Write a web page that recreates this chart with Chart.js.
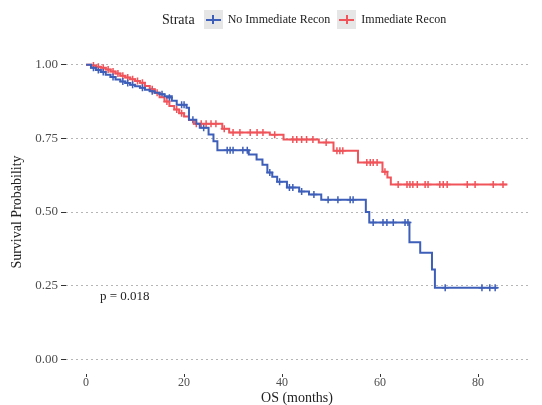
<!DOCTYPE html>
<html>
<head>
    <title>Survival Curve</title>
    <script src="https://cdn.jsdelivr.net/npm/chart.js"></script>
    <style>
        body {
            margin: 0;
            background-color: #fff;
            font-family: 'Liberation Serif', serif;
        }
        .wrap {
            position: relative;
            width: 542px;
            height: 405px;
        }
        #legend {
            position: absolute;
            top: 10px;
            left: 162px;
            display: flex;
            align-items: center;
            font-size: 12px;
            color: #222;
        }
        #legend .ttl {
            font-size: 14px;
            margin-right: 9px;
        }
        .key {
            position: relative;
            width: 19px;
            height: 19px;
            background: #e6e6e6;
            margin-right: 5px;
        }
        .key .h { position: absolute; left: 2px; right: 2px; top: 8.5px; height: 2px; }
        .key .v { position: absolute; top: 5px; bottom: 5px; left: 8.5px; width: 2px; }
        #pval {
            position: absolute;
            left: 100px;
            top: 288px;
            font-size: 13px;
            color: #222;
        }
    </style>
</head>
<body>
    <div class="wrap">
        <canvas id="kmChart" width="542" height="405"></canvas>
        <div id="legend">
            <span class="ttl">Strata</span>
            <span class="key"><i class="h" style="background:#3E5FB9"></i><i class="v" style="background:#3E5FB9"></i></span>
            <span style="margin-right:7px">No Immediate Recon</span>
            <span class="key"><i class="h" style="background:#F0545A"></i><i class="v" style="background:#F0545A"></i></span>
            <span>Immediate Recon</span>
        </div>
        <div id="pval">p = 0.018</div>
    </div>

    <script>
        const xTicks = [0, 20, 40, 60, 80];
        const yTicks = [0, 0.25, 0.5, 0.75, 1];

        // No Immediate Recon - event steps
        const blueTimes = [0, 1, 2, 3, 4, 5, 6, 7, 8, 9, 10, 11, 12, 13, 14, 15, 16, 17.5, 18.5, 20.5, 21, 22.5, 23.2, 25, 26, 26.8, 33.2, 34.8, 36, 37, 38, 39, 41, 43.5, 45.5, 48, 57.1, 57.8, 66, 68.2, 70.6, 71.2, 84];
        const blueSurv = [1.0, 0.99, 0.982, 0.975, 0.966, 0.958, 0.95, 0.943, 0.938, 0.932, 0.927, 0.922, 0.915, 0.91, 0.905, 0.9, 0.893, 0.878, 0.864, 0.854, 0.813, 0.8, 0.786, 0.763, 0.74, 0.71, 0.695, 0.678, 0.66, 0.634, 0.62, 0.603, 0.583, 0.57, 0.559, 0.542, 0.5, 0.464, 0.397, 0.362, 0.305, 0.243, 0.243];
        // censored
        const blueCensT = [1.5, 2.5, 3.5, 5.5, 7.5, 8.5, 9.5, 11.5, 13.5, 15.5, 17, 19.5, 20, 21.8, 24, 28.8, 29.4, 30, 32, 32.9, 37.5, 39.5, 41.5, 42.2, 44, 46.5, 49.4, 51.4, 53.9, 54.5, 58.6, 60.6, 61.4, 62.7, 65.1, 65.7, 73.3, 80.8, 82.4, 83.5];
        const blueCensS = [0.99, 0.982, 0.975, 0.958, 0.943, 0.938, 0.932, 0.922, 0.91, 0.9, 0.888, 0.864, 0.864, 0.813, 0.786, 0.71, 0.71, 0.71, 0.71, 0.71, 0.634, 0.603, 0.583, 0.583, 0.57, 0.559, 0.542, 0.542, 0.542, 0.542, 0.464, 0.464, 0.464, 0.464, 0.464, 0.464, 0.243, 0.243, 0.243, 0.243];

        // Immediate Recon - event steps
        const redTimes = [0, 1, 2, 3, 4, 5, 6, 7, 8, 9, 10, 11, 12, 13, 14, 15, 16, 17, 18, 19, 20, 21, 22, 27.8, 29.2, 37.5, 40.3, 47.5, 50.5, 55.5, 60.5, 61.5, 62.2, 86];
        const redSurv = [1.0, 0.997, 0.993, 0.99, 0.984, 0.977, 0.97, 0.963, 0.957, 0.951, 0.945, 0.939, 0.928, 0.917, 0.905, 0.89, 0.875, 0.86, 0.848, 0.835, 0.824, 0.812, 0.8, 0.783, 0.77, 0.762, 0.746, 0.736, 0.708, 0.668, 0.637, 0.617, 0.593, 0.593];
        const redCensT = [1.5, 2.5, 3.5, 4.5, 5.5, 6.5, 7.5, 8.5, 9.5, 10.5, 11.5, 13.5, 14.5, 16.5, 18.5, 19.5, 22.5, 23.5, 24.5, 25.5, 26.5, 28.2, 30, 31.4, 33.5, 34.9, 36.1, 38.5, 42.2, 43, 44, 45, 46.3, 49, 51.2, 51.8, 52.4, 57.3, 58, 58.6, 59.4, 61, 63.7, 65.5, 66.1, 66.7, 67.6, 69.2, 69.8, 72.2, 72.9, 73.7, 77.8, 79.4, 83.1, 85.1];
        const redCensS = [0.997, 0.993, 0.99, 0.984, 0.977, 0.97, 0.963, 0.957, 0.951, 0.945, 0.939, 0.917, 0.905, 0.875, 0.848, 0.835, 0.8, 0.8, 0.8, 0.8, 0.8, 0.783, 0.77, 0.77, 0.77, 0.77, 0.77, 0.762, 0.746, 0.746, 0.746, 0.746, 0.746, 0.736, 0.708, 0.708, 0.708, 0.668, 0.668, 0.668, 0.668, 0.637, 0.593, 0.593, 0.593, 0.593, 0.593, 0.593, 0.593, 0.593, 0.593, 0.593, 0.593, 0.593, 0.593, 0.593];

        const BLUE = '#3E5FB9';
        const RED = '#F0545A';

        function pts(xs, ys) {
            return xs.map((x, i) => ({ x: x, y: ys[i] }));
        }

        function stepSet(xs, ys, color) {
            return {
                data: pts(xs, ys),
                borderColor: color,
                borderWidth: 2,
                stepped: true,
                pointRadius: 0,
                fill: false
            };
        }

        function censSet(xs, ys, color) {
            return {
                data: pts(xs, ys),
                showLine: false,
                pointStyle: 'cross',
                pointRadius: 3.5,
                pointBorderWidth: 1.5,
                pointBorderColor: color,
                borderColor: color
            };
        }

        const serif = 'Liberation Serif';

        new Chart(document.getElementById('kmChart'), {
            type: 'line',
            data: {
                datasets: [
                    stepSet(blueTimes, blueSurv, BLUE),
                    stepSet(redTimes, redSurv, RED),
                    censSet(blueCensT, blueCensS, BLUE),
                    censSet(redCensT, redCensS, RED)
                ]
            },
            options: {
                responsive: false,
                animation: false,
                layout: { padding: { top: 50, right: 14, left: 0, bottom: 0 } },
                plugins: {
                    legend: { display: false },
                    tooltip: { enabled: false }
                },
                scales: {
                    x: {
                        type: 'linear',
                        min: -4.1,
                        max: 90.2,
                        afterBuildTicks: s => { s.ticks = xTicks.map(v => ({ value: v })); },
                        afterFit: s => { s.height = 31; },
                        grid: { drawOnChartArea: false, tickLength: 3, tickColor: '#333', tickWidth: 1 },
                        border: { display: false },
                        ticks: { padding: 0, color: '#4d4d4d', font: { family: serif, size: 12, lineHeight: 1 } },
                        title: { display: true, text: 'OS (months)', color: '#222', padding: 0, font: { family: serif, size: 14, lineHeight: 1 } }
                    },
                    y: {
                        min: -0.05,
                        max: 1.05,
                        afterBuildTicks: s => { s.ticks = yTicks.map(v => ({ value: v })); },
                        afterFit: s => { s.width = 66; },
                        grid: { color: '#b5b5b5', lineWidth: 1, tickLength: 5, tickColor: '#333', tickWidth: 1 },
                        border: { display: false, dash: [2, 3] },
                        ticks: {
                            padding: 3,
                            color: '#4d4d4d',
                            font: { family: serif, size: 13 },
                            callback: v => v.toFixed(2)
                        },
                        title: { display: true, text: 'Survival Probability', color: '#222', padding: { top: 9, bottom: 0 }, font: { family: serif, size: 14 } }
                    }
                }
            }
        });
    </script>
</body>
</html>
